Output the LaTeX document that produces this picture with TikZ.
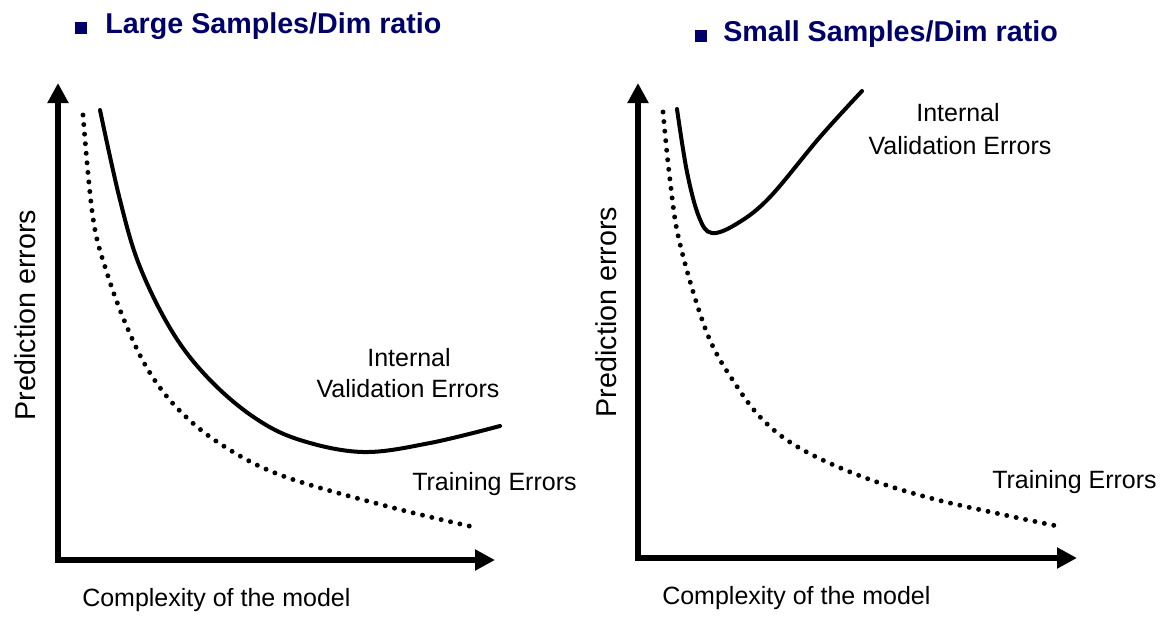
\documentclass[tikz,border=0pt]{standalone}
\usepackage{fontspec}
\setmainfont{Liberation Sans}
\usetikzlibrary{arrows.meta}
\definecolor{titlenavy}{RGB}{0,0,106}
\begin{document}
\begin{tikzpicture}[x=0.75pt,y=-0.75pt,
  axisline/.style={line width=4.9pt, line join=miter, {Triangle[length=15pt,width=15pt]}-{Triangle[length=15pt,width=15pt]}},
  valcurve/.style={line width=3pt, line cap=round},
  traincurve/.style={line width=3.7pt, line cap=round, dash pattern=on 0pt off 7.2pt},
  lbl/.style={font=\fontsize{18.75}{22}\selectfont, inner sep=0pt, anchor=base west},
  lblc/.style={font=\fontsize{18.75}{22}\selectfont, inner sep=0pt, anchor=base},
  ylbl/.style={font=\fontsize{21.5}{25}\selectfont, inner sep=0pt, anchor=base, rotate=90},
  ttl/.style={font=\fontsize{21.5}{25}\selectfont\bfseries, text=titlenavy, inner sep=0pt, anchor=base west},
  bullet/.style={fill=titlenavy, draw=none}
]
\useasboundingbox (0,0) rectangle (1174,618);

% ---------- Left panel ----------
\fill[bullet] (75,22) rectangle (87,34);
\node[ttl] (t1) at (105,33) {Large Samples/Dim ratio};

\coordinate (Y1) at (58,83);
\coordinate (O1) at (58,560);
\coordinate (X1) at (495,560);
\draw[axisline] (Y1) -- (O1) -- (X1);

\draw[traincurve] plot[smooth, tension=0.6] coordinates {(83,115) (93,218) (107,273) (127,327) (150,373) (180,411) (222,445) (283,476) (390,507) (478,528)};
\draw[valcurve] plot[smooth, tension=0.6] coordinates {(100,110) (120,200) (140,267) (173,333) (210,380) (255,418) (300,440) (363,452) (430,443) (500,426)};

\node[ylbl] (p1) at (35,315) {Prediction errors};
\node[lbl] (c1) at (82,606) {Complexity of the model};
\node[lblc] (v1a) at (409,366) {Internal};
\node[lblc] (v1b) at (408,397) {Validation Errors};
\node[lbl] (tr1) at (412,490) {Training Errors};

% ---------- Right panel ----------
\fill[bullet] (695,30) rectangle (707,42);
\node[ttl] (t2) at (723,41) {Small Samples/Dim ratio};

\coordinate (Y2) at (638,83);
\coordinate (O2) at (638,558);
\coordinate (X2) at (1077,558);
\draw[axisline] (Y2) -- (O2) -- (X2);

\draw[traincurve] plot[smooth, tension=0.6] coordinates {(663,112) (670,180) (680,244) (707,333) (736,385) (765,422) (803,450) (863,477) (930,498) (1000,514) (1057,526)};
\draw[valcurve] plot[smooth, tension=0.6] coordinates {(677,109) (687,172) (699,217) (712,233) (738,223) (770,197) (820,137) (862,91)};

\node[ylbl] (p2) at (616,312) {Prediction errors};
\node[lbl] (c2) at (662,604) {Complexity of the model};
\node[lblc] (v2a) at (958,121) {Internal};
\node[lblc] (v2b) at (960,154) {Validation Errors};
\node[lbl] (tr2) at (992,488) {Training Errors};
\end{tikzpicture}
\end{document}
